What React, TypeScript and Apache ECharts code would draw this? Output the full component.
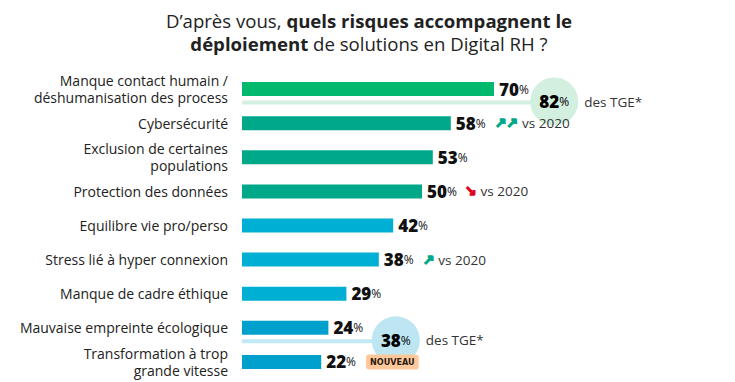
import React, { useEffect, useRef } from "react";
import * as echarts from "echarts";

const categories = [
  "Manque contact humain /\ndéshumanisation des process",
  "Cybersécurité",
  "Exclusion de certaines\npopulations",
  "Protection des données",
  "Equilibre vie pro/perso",
  "Stress lié à hyper connexion",
  "Manque de cadre éthique",
  "Mauvaise empreinte écologique",
  "Transformation à trop\ngrande vitesse",
];
const values = [70, 58, 53, 50, 42, 38, 29, 24, 22];
// trend vs 2020: "up2" strong up, "up" up, "down" down, "" none
const trends = ["", "up2", "", "down", "", "up", "", "", ""];
const badges = ["", "", "", "", "", "", "", "", "NOUVEAU"];
const tgeCategories = ["Manque contact humain /\ndéshumanisation des process", "Mauvaise empreinte écologique"];
const tgeValues = [82, 38];
const tgeLabel = "des TGE*";
const trendLabel = "vs 2020";

const barColors = ["#00b96c", "#00a88a", "#00a88a", "#00a88a", "#00b0d4", "#00b0d4", "#00b0d4", "#00a0cc", "#00a0cc"];
const tgeBarColors = ["#d5efe2", "#c2e8f3"];
const tgeCircleColors = ["#d3efdf", "#bde6f2"];

const FONT = "'Open Sans', sans-serif";
const ARROW_FONT = "'DejaVu Sans', sans-serif";

export default function App() {
  const ref = useRef<HTMLDivElement>(null);
  useEffect(() => {
    if (!ref.current) return;
    const chart = echarts.init(ref.current, undefined, { renderer: "svg" });
    const valueRich = {
      v: { fontFamily: FONT, fontSize: 17, fontWeight: 800, color: "#111" },
      p: { fontFamily: FONT, fontSize: 12, fontWeight: 500, color: "#111" },
    };
    chart.setOption({
      animation: false,
      title: {
        text:
          "{r|D’après vous, }{b|quels risques accompagnent le}\n{b|déploiement}{r| de solutions en Digital RH ?}",
        left: 364,
        top: 4,
        textAlign: "center",
        textStyle: {
          rich: {
            r: { fontFamily: FONT, fontSize: 18.6, fontWeight: 400, color: "#222", lineHeight: 23 },
            b: { fontFamily: FONT, fontSize: 18.6, fontWeight: 700, color: "#222", lineHeight: 23 },
          },
        },
      },
      grid: { left: 242, right: 133, top: 72, bottom: 3, containLabel: false },
      xAxis: { type: "value", min: 0, max: 100, show: false },
      yAxis: {
        type: "category",
        data: categories,
        inverse: true,
        axisLine: { show: false },
        axisTick: { show: false },
        axisLabel: {
          margin: 14,
          fontFamily: FONT,
          fontSize: 14,
          lineHeight: 17,
          color: "#222",
          align: "right",
        },
      },
      series: [
        {
          type: "custom",
          z: 1,
          data: tgeValues.map((v, i) => [v, tgeCategories[i]]),
          encode: { x: 0, y: 1 },
          renderItem: (params: any, api: any) => {
            const v = api.value(0);
            const cat = api.value(1);
            const start = api.coord([0, cat]);
            const end = api.coord([v, cat]);
            const y = start[1] + 13.5;
            const cx = end[0] + 17;
            const idx = params.dataIndex;
            return {
              type: "group",
              children: [
                {
                  type: "rect",
                  shape: { x: start[0], y: y - 2, width: cx - start[0], height: 4 },
                  style: { fill: tgeBarColors[idx] },
                },
                {
                  type: "circle",
                  shape: { cx, cy: y - 1, r: 24 },
                  style: { fill: tgeCircleColors[idx] },
                },
                {
                  type: "text",
                  x: cx,
                  y: y - 1,
                  style: {
                    text: `{v|${v}}{p|%}`,
                    align: "center",
                    verticalAlign: "middle",
                    rich: valueRich,
                  },
                },
                {
                  type: "text",
                  x: cx + 30,
                  y: y - 1,
                  style: {
                    text: tgeLabel,
                    align: "left",
                    verticalAlign: "middle",
                    fontFamily: FONT,
                    fontSize: 13.5,
                    fill: "#333",
                  },
                },
              ],
            };
          },
        },
        {
          type: "bar",
          z: 2,
          barWidth: 14,
          data: values.map((v, i) => ({ value: v, itemStyle: { color: barColors[i] } })),
          label: {
            show: true,
            position: "right",
            distance: 5,
            formatter: (p: any) => {
              const i = p.dataIndex;
              let s = `{v|${p.value}}{p|%}`;
              if (trends[i] === "up2") s += `{up|↗↗}{vs|${trendLabel}}`;
              if (trends[i] === "up") s += `{up|↗}{vs|${trendLabel}}`;
              if (trends[i] === "down") s += `{down|↘}{vs|${trendLabel}}`;
              if (badges[i]) s += `{gap|}{badge|${badges[i]}}`;
              return s;
            },
            rich: {
              ...valueRich,
              up: {
                fontFamily: ARROW_FONT,
                fontSize: 14,
                fontWeight: 700,
                color: "#00a88a",
                textBorderColor: "#00a88a",
                textBorderWidth: 1.3,
                padding: [0, 0, 0, 9],
              },
              down: {
                fontFamily: ARROW_FONT,
                fontSize: 14,
                fontWeight: 700,
                color: "#e3001b",
                textBorderColor: "#e3001b",
                textBorderWidth: 1.3,
                padding: [0, 0, 0, 8],
              },
              vs: { fontFamily: FONT, fontSize: 13.5, color: "#333", padding: [0, 0, 0, 4] },
              gap: { width: 10 },
              badge: {
                fontFamily: "'DejaVu Sans Condensed', 'DejaVu Sans'",
                fontSize: 9,
                fontWeight: 700,
                color: "#2a1a10",
                backgroundColor: "#ffc89a",
                borderRadius: 3,
                padding: [3, 4, 3, 4],
              },
            },
          },
        },
      ],
    });
    return () => chart.dispose();
  }, []);
  return (
    <div
      ref={ref}
      style={{ position: "absolute", left: 0, top: 0, width: 735, height: 382 }}
    />
  );
}
